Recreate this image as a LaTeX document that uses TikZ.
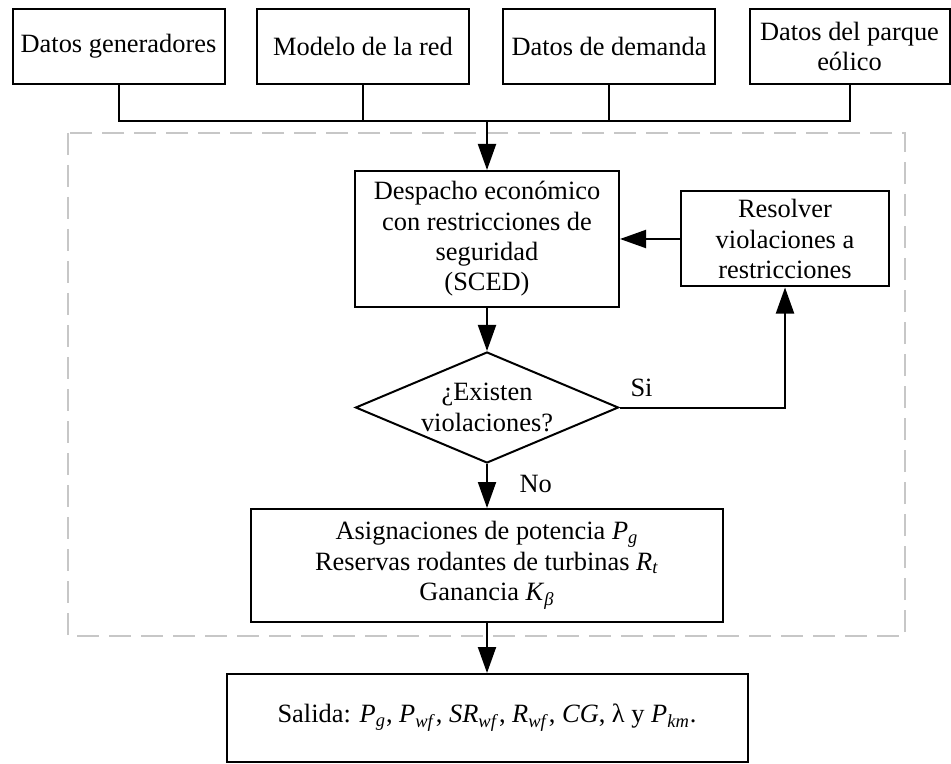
\documentclass[tikz,border=0pt]{standalone}
\usepackage{fontspec}
\setmainfont{Liberation Serif}
\usetikzlibrary{positioning,calc,arrows.meta,shapes.geometric,graphs}

\newcommand{\vsub}[2]{\textit{#1}\textsubscript{\textit{#2}}}

\begin{document}
\begin{tikzpicture}[x=0.5pt,y=-0.5pt,
        font=\fontsize{13.2}{15.2}\selectfont,
        line width=1pt,
        >={Triangle[length=13pt,width=9pt]},
        box/.style={draw, line width=1pt, align=center, inner sep=2pt},
        datos/.style={box, minimum width=106pt, minimum height=37.5pt},
        decision/.style={draw, diamond, aspect=2.37, inner sep=0pt, align=center, line width=1pt,
            minimum width=131.5pt, minimum height=55.5pt},
        marco/.style={draw=black!22, line width=1pt, dash pattern=on 11pt off 5pt},
        etiqueta/.style={inner sep=0pt}]
        \useasboundingbox (0,0) rectangle (951,764);
        \draw[marco] (68,133) rectangle (905,636);

        \node[datos] (gen) at (118.5,46.5) {Datos generadores};
        \node[datos] (red) at (363,46.5) {Modelo de la red};
        \node[datos] (dem) at (609,46.5) {Datos de demanda};
        \node[datos, minimum width=100pt] (eol) at (849.5,46.5) {Datos del parque\\eólico};

        \node[box, minimum width=132pt, minimum height=68pt] (sced) at (487,239)
            {Despacho económico\\con restricciones de\\seguridad\\(SCED)};
        \node[box, minimum width=104pt, minimum height=47.5pt] (res) at (785,239)
            {Resolver\\violaciones a\\restricciones};
        \node[decision] (dec) at (487,407.5) {¿Existen\\violaciones?};
        \node[box, minimum width=236pt, minimum height=56.5pt] (asig) at (487,565.5)
            {Asignaciones de potencia \vsub{P}{g}\\Reservas rodantes de turbinas \vsub{R}{t}\\Ganancia \vsub{K}{β}};
        \node[box, minimum width=260.5pt, minimum height=44pt] (salida) at (487,718)
            {Salida: \vsub{P}{g}, \vsub{P}{wf}, \vsub{SR}{wf}, \vsub{R}{wf}, \textit{CG}, λ y \vsub{P}{km}.};

        \coordinate (bus) at (487,121);
        \draw (gen.south) |- (bus);
        \draw (eol.south) |- (bus);
        \draw (red.south) -- (red.south |- bus);
        \draw (dem.south) -- (dem.south |- bus);
        \draw[->] (bus) -- (sced);

        \graph {
        (sced) -> (dec),
        (res) -> (sced),
        (dec) -> (asig),
        (asig) -> (salida),
        };
        \draw[->] (dec.east) -| (res.south);
        \node[etiqueta, anchor=south west] (si) at ($(dec.east)+(10,-10)$) {Si};
        \node[etiqueta, anchor=west] (no) at ($(dec.south)+(31.5,20)$) {No};
    \end{tikzpicture}
\end{document}
